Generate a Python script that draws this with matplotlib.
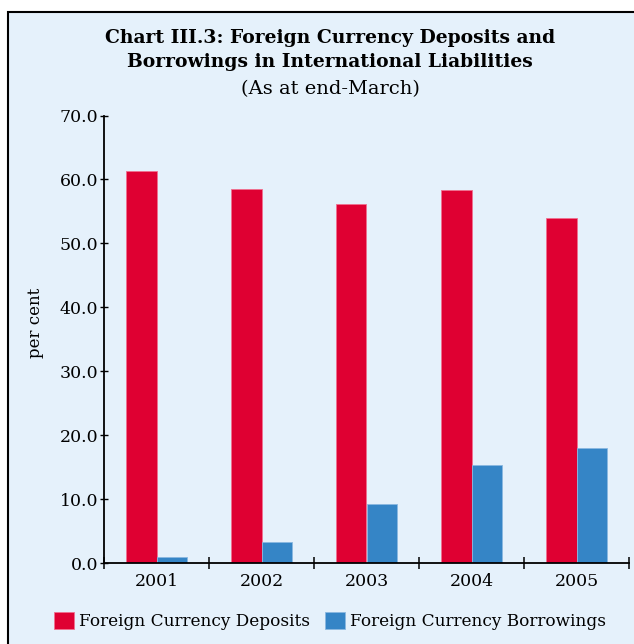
import numpy as np
import matplotlib.pyplot as plt
from matplotlib.patches import Rectangle, Patch

# Data (per cent of international liabilities, end-March)
years = ["2001", "2002", "2003", "2004", "2005"]
deposits = [61.3, 58.5, 56.2, 58.4, 54.0]
borrowings = [0.9, 3.3, 9.3, 15.3, 18.0]

RED = "#DF0032"
BLUE = "#3585C6"
BG = "#E5F1FB"

plt.rcParams["font.family"] = ["DejaVu Serif"]

fig = plt.figure(figsize=(6.34, 6.44), dpi=100)
fig.patch.set_facecolor("white")

# light blue panel with a black border, cut off at right and bottom
fig.patches.append(Rectangle((8 / 634, -0.05), 1.1, 1 - 12 / 644 + 0.05,
                             transform=fig.transFigure, facecolor=BG,
                             edgecolor="black", linewidth=1.5, zorder=-10))

ax = fig.add_axes([104 / 634, 1 - 563 / 644, (629 - 104) / 634, (563 - 115.5) / 644])
ax.set_facecolor("none")
ax.set_zorder(5)

x = np.arange(len(years))
w = 0.29
ax.bar(x - w / 2, deposits, width=w, color=RED, edgecolor="#F07090", linewidth=0.6)
ax.bar(x + w / 2, borrowings, width=w, color=BLUE, edgecolor="#8AB8E0", linewidth=0.6)

ax.set_xlim(-0.5, len(years) - 0.5)
ax.set_ylim(0, 70)
ax.set_yticks(np.arange(0, 71, 10))
ax.set_yticklabels([f"{v:.1f}" for v in np.arange(0, 71, 10)], fontsize=12.5)
ax.tick_params(axis="y", direction="inout", length=6, width=1, pad=1)

ax.set_xticks(np.arange(-0.5, len(years), 1.0))
ax.set_xticklabels([])
ax.tick_params(axis="x", which="major", direction="inout", length=8, width=1.1)
ax.set_xticks(x, minor=True)
ax.set_xticklabels(years, minor=True, fontsize=12.5)
ax.tick_params(axis="x", which="minor", length=0, pad=7)

for s in ["top", "right"]:
    ax.spines[s].set_visible(False)
for s in ["left", "bottom"]:
    ax.spines[s].set_linewidth(1.3)

fig.text(35 / 634, 1 - 323 / 644, "per cent", rotation=90, ha="center", va="center",
         fontsize=12)

fig.text(330 / 634, 1 - 38 / 644, "Chart III.3: Foreign Currency Deposits and",
         ha="center", va="center", fontsize=13.5, fontweight="bold")
fig.text(330 / 634, 1 - 62 / 644, "Borrowings in International Liabilities",
         ha="center", va="center", fontsize=13.5, fontweight="bold")
fig.text(330 / 634, 1 - 89 / 644, "(As at end-March)",
         ha="center", va="center", fontsize=14)

handles = [Patch(facecolor=RED, edgecolor="#F07090", linewidth=0.6),
           Patch(facecolor=BLUE, edgecolor="#8AB8E0", linewidth=0.6)]
fig.legend(handles, ["Foreign Currency Deposits", "Foreign Currency Borrowings"],
           loc="center", bbox_to_anchor=(330 / 634, 1 - 621 / 644), ncol=2,
           frameon=False, fontsize=12.2, handlelength=1.15, handleheight=1.15,
           handletextpad=0.3, columnspacing=0.9, borderpad=0)

fig.savefig("out.png", dpi=100, facecolor=fig.get_facecolor())
